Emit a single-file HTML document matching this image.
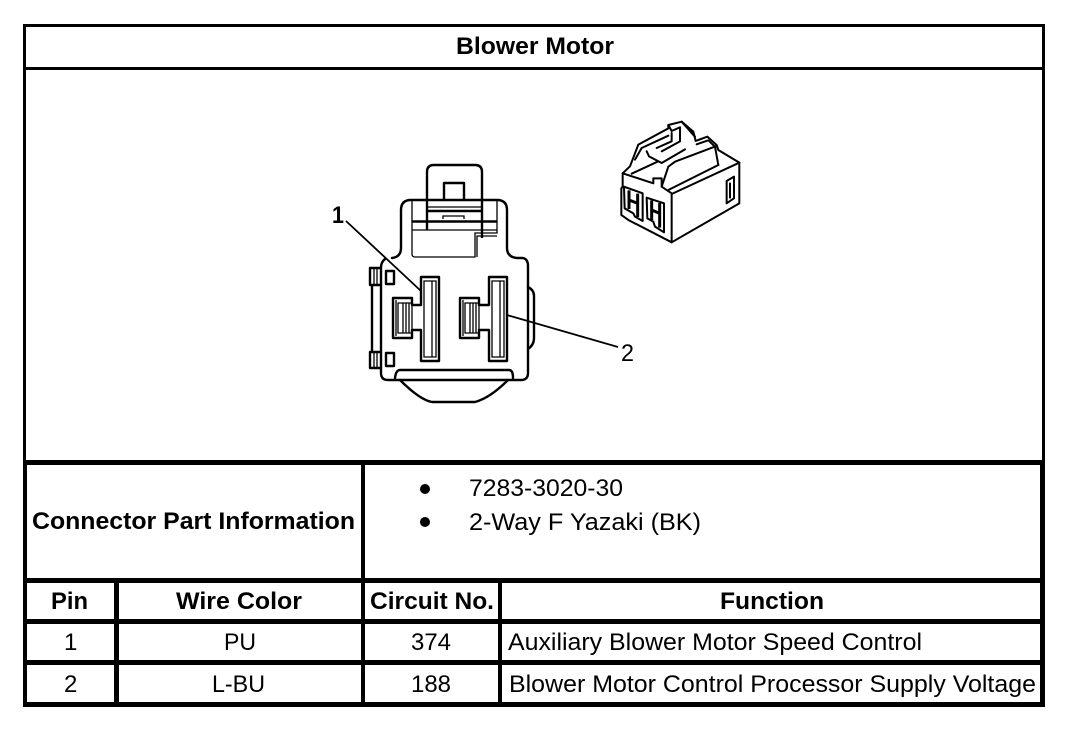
<!DOCTYPE html>
<html><head><meta charset="utf-8">
<style>
html,body{margin:0;padding:0;background:#fff}
svg{display:block}
text{font-family:"Liberation Sans",Arial,sans-serif;font-size:24px;fill:#000}
.b{font-weight:bold}
.l{fill:none;stroke:#000;stroke-width:2.4;stroke-linejoin:round;stroke-linecap:round}
.t{fill:none;stroke:#000;stroke-width:1.3}
.m{fill:none;stroke:#000;stroke-width:2.4}
.i{fill:none;stroke:#000;stroke-width:6;stroke-linejoin:round;stroke-linecap:round}
.h{fill:none;stroke:#000;stroke-width:9;stroke-linejoin:miter}
</style></head>
<body>
<svg width="1072" height="730" viewBox="0 0 1072 730" xmlns="http://www.w3.org/2000/svg">
<rect width="1072" height="730" fill="#fff"/>
<!-- table frame -->
<g fill="#000">
<rect x="23" y="24" width="1022" height="3"/>
<rect x="23" y="67" width="1022" height="3"/>
<rect x="23" y="24" width="3" height="440"/>
<rect x="1042" y="24" width="3" height="440"/>
<rect x="23" y="460" width="1022" height="5"/>
<rect x="23" y="460" width="4" height="247"/>
<rect x="1040" y="460" width="5" height="247"/>
<rect x="23" y="578" width="1022" height="5"/>
<rect x="23" y="619" width="1022" height="5"/>
<rect x="23" y="660" width="1022" height="5"/>
<rect x="23" y="702" width="1022" height="5"/>
<rect x="361" y="460" width="4" height="247"/>
<rect x="114" y="578" width="5" height="129"/>
<rect x="498" y="578" width="4" height="129"/>
</g>
<!-- text -->
<text class="b" x="456" y="54" textLength="158" lengthAdjust="spacingAndGlyphs">Blower Motor</text>
<text class="b" x="32" y="529" textLength="323" lengthAdjust="spacingAndGlyphs">Connector Part Information</text>
<circle cx="425" cy="489" r="5"/><circle cx="425" cy="522" r="5"/>
<text x="469" y="496" textLength="154" lengthAdjust="spacingAndGlyphs">7283-3020-30</text>
<text x="469" y="530" textLength="232" lengthAdjust="spacingAndGlyphs">2-Way F Yazaki (BK)</text>
<text class="b" x="51" y="609" textLength="37" lengthAdjust="spacingAndGlyphs">Pin</text>
<text class="b" x="176" y="609" textLength="126" lengthAdjust="spacingAndGlyphs">Wire Color</text>
<text class="b" x="370" y="609" textLength="124" lengthAdjust="spacingAndGlyphs">Circuit No.</text>
<text class="b" x="720" y="609" textLength="104" lengthAdjust="spacingAndGlyphs">Function</text>
<text x="64" y="650">1</text>
<text x="224" y="650" textLength="32" lengthAdjust="spacingAndGlyphs">PU</text>
<text x="411" y="650" textLength="40" lengthAdjust="spacingAndGlyphs">374</text>
<text x="508" y="650" textLength="414" lengthAdjust="spacingAndGlyphs">Auxiliary Blower Motor Speed Control</text>
<text x="64" y="692">2</text>
<text x="212" y="692" textLength="53" lengthAdjust="spacingAndGlyphs">L-BU</text>
<text x="411" y="692" textLength="40" lengthAdjust="spacingAndGlyphs">188</text>
<text x="509" y="692" textLength="527" lengthAdjust="spacingAndGlyphs">Blower Motor Control Processor Supply Voltage</text>
<!-- front-view connector -->
<g class="l">
<path d="M427 200V172Q427 165 434 165H475Q482 165 482 172V200"/>
<path d="M444 200V183H464V200"/>
<path d="M392 258Q401 257 401 248V210Q401 200 411 200H497Q507 200 507 210V248Q507 257 517 258H523Q528 259 528 266V373Q528 380 521 380H388Q381 380 381 373V268Q381 262 385 259"/>
<path d="M528 287Q534 290 534 296V338Q534 345 528 349"/>
<path d="M395 378Q396 370 400 370H509Q513 370 513 378"/>
<path d="M400 380Q420 400 432 402H475Q490 398 508 380"/>
<path d="M370 268H380M370 285H380M370 268V285M370 352H380M370 368H380M370 352V368M372 285V352"/>
<rect x="386" y="271" width="8" height="13"/>
<rect x="386" y="353" width="8" height="13"/>
</g>
<g class="m">
<path d="M427 200V230M482 200V238M427 211H482M412 221.5H497"/>
</g>
<g class="t">
<path d="M412 201V254Q412 257 415 257H475V233H497V201M412 230H497M427 207H482M443 219V216H464V219M477 257V236H497"/>
<path d="M374 268V285M377 268V285M374 352V368M377 352V368"/>
</g>
<g class="l">
<path fill="#fff" d="M421 277H439V361H421V330H412V338H393V298H412V305H421Z"/>
<path fill="#fff" d="M489 277H507V361H489V330H479V338H460V298H479V305H489Z"/>
</g>
<g class="t">
<path d="M424 281H436V357H424ZM432 281V357M398 303H412V333H398ZM396 300V336M403 303V333M406 303V333M409 303V333"/>
<path d="M492 281H504V357H492ZM500 281V357M465 303H479V333H465ZM463 300V336M470 303V333M473 303V333M476 303V333"/>
</g>
<path d="M346 221L421 291M507 315L618 347" fill="none" stroke="#000" stroke-width="1.8"/>
<text class="b" x="332" y="223" textLength="12" lengthAdjust="spacingAndGlyphs">1</text>
<text x="621" y="361" textLength="13" lengthAdjust="spacingAndGlyphs">2</text>
<!-- isometric connector -->
<g transform="translate(600 115) scale(.3333)">
<path class="i" d="M68 175V215L64 220V300L85 315L215 382L418 265V143L355 105L350 90L322 65L287 78L280 50L245 20L205 30V40L115 89L90 154L68 175Z"/>
<path class="i" d="M105 134L125 99L205 62M290 88L325 76L345 95L355 150"/>
<path class="i" d="M68 175L160 205V190L185 190V215L215 235V382M185 215L205 155L225 140L350 93M205 225L355 150M215 237L418 143"/>
<path class="i" d="M95 176L175 139M140 109L147 124L185 144L255 103M170 99L215 79V54M185 109L240 79V37M205 30L215 48L240 37M245 20L285 65"/>
<path class="i" d="M72 215L128 235V318L105 305L100 295L74 280Z"/>
<path class="h" d="M87 226V282M113 236V306M87 255L113 265"/>
<path class="i" d="M140 248L192 265V352L165 335L160 320L142 310Z"/>
<path class="h" d="M155 256V315M179 264V338M155 285L179 295"/>
<path class="i" d="M380 198L402 185V250L380 265ZM390 205V248"/>
</g>
</svg>
</body></html>
